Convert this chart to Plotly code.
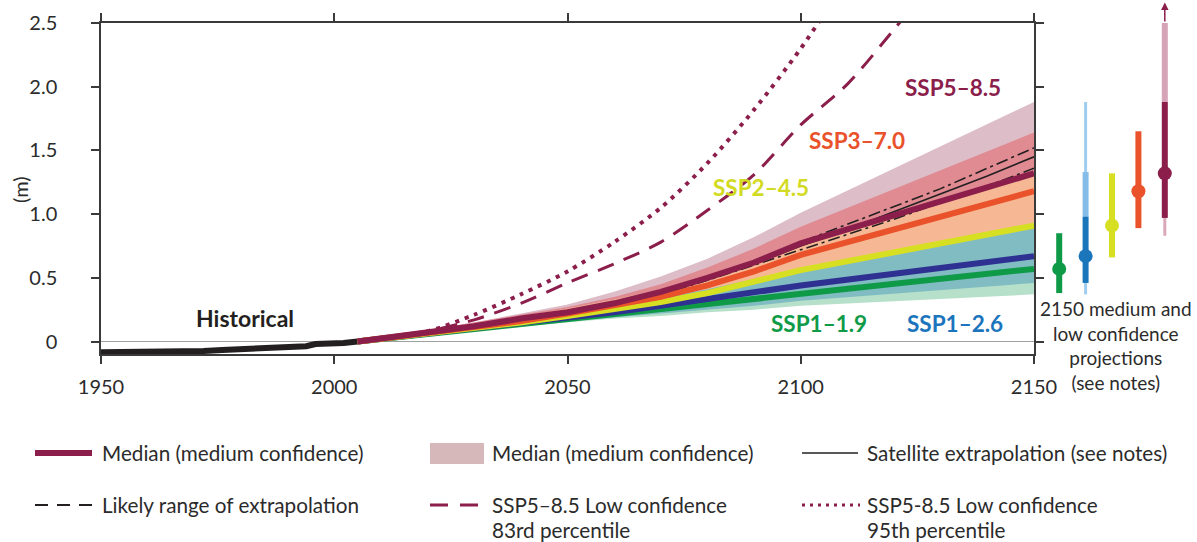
import plotly.graph_objects as go

# ---------------- data ----------------
hist_years = [1950, 1968, 1972, 1976, 1980, 1986, 1990, 1994, 1996, 2000, 2002, 2005]
hist_values = [-0.084, -0.084, -0.074, -0.066, -0.060, -0.056, -0.046, -0.037, -0.020, -0.018, -0.012, 0.0]

proj_years = [2005, 2020, 2030, 2040, 2050, 2060, 2070, 2080, 2090, 2100, 2150]

ssp119_median = [0, 0.06, 0.10, 0.14, 0.18, 0.22, 0.26, 0.30, 0.34, 0.38, 0.57]
ssp126_median = [0, 0.06, 0.10, 0.15, 0.19, 0.23, 0.28, 0.33, 0.38, 0.44, 0.67]
ssp245_median = [0, 0.06, 0.11, 0.15, 0.20, 0.25, 0.31, 0.38, 0.47, 0.56, 0.91]
ssp370_median = [0, 0.07, 0.11, 0.16, 0.22, 0.28, 0.35, 0.44, 0.55, 0.68, 1.18]
ssp585_median = [0, 0.07, 0.12, 0.18, 0.23, 0.30, 0.39, 0.50, 0.62, 0.77, 1.32]

ssp119_low = [0, 0.06, 0.09, 0.12, 0.15, 0.18, 0.20, 0.23, 0.25, 0.28, 0.37]
ssp119_high = [0, 0.08, 0.13, 0.18, 0.23, 0.28, 0.34, 0.40, 0.47, 0.55, 0.86]
ssp126_low = [0, 0.06, 0.09, 0.12, 0.16, 0.19, 0.22, 0.25, 0.28, 0.32, 0.46]
ssp126_high = [0, 0.08, 0.13, 0.18, 0.23, 0.28, 0.34, 0.41, 0.49, 0.57, 0.93]
ssp245_low = [0, 0.06, 0.09, 0.13, 0.17, 0.21, 0.26, 0.31, 0.37, 0.44, 0.66]
ssp245_high = [0, 0.09, 0.14, 0.20, 0.26, 0.33, 0.41, 0.52, 0.63, 0.76, 1.33]
ssp370_low = [0, 0.06, 0.10, 0.14, 0.18, 0.23, 0.29, 0.36, 0.45, 0.55, 0.91]
ssp370_high = [0, 0.09, 0.15, 0.21, 0.27, 0.35, 0.45, 0.58, 0.73, 0.90, 1.64]
ssp585_low = [0, 0.06, 0.10, 0.15, 0.20, 0.26, 0.33, 0.42, 0.52, 0.63, 0.98]
ssp585_high = [0, 0.09, 0.15, 0.22, 0.29, 0.39, 0.51, 0.65, 0.82, 1.01, 1.88]

sat_years = [2005, 2020, 2030, 2040, 2050, 2060, 2070, 2080, 2090, 2100, 2110, 2120, 2130, 2140, 2150]
sat_central = [0, 0.06, 0.11, 0.17, 0.22, 0.29, 0.38, 0.49, 0.61, 0.75, 0.88, 1.02, 1.16, 1.30, 1.45]
sat_upper = [0, 0.06, 0.11, 0.17, 0.23, 0.30, 0.39, 0.50, 0.63, 0.78, 0.92, 1.06, 1.20, 1.36, 1.52]
sat_lower = [0, 0.06, 0.11, 0.16, 0.22, 0.28, 0.37, 0.48, 0.60, 0.72, 0.84, 0.96, 1.09, 1.22, 1.36]

lc83_years = [2005, 2020, 2030, 2040, 2050, 2060, 2070, 2080, 2090, 2100, 2110, 2120, 2130]
lc83_values = [0, 0.08, 0.17, 0.30, 0.46, 0.61, 0.78, 1.03, 1.31, 1.70, 2.02, 2.45, 2.90]
lc95_years = [2005, 2020, 2030, 2040, 2050, 2060, 2070, 2080, 2090, 2100, 2110]
lc95_values = [0, 0.08, 0.21, 0.37, 0.55, 0.78, 1.05, 1.40, 1.82, 2.30, 2.85]

scenarios = ["SSP1–1.9", "SSP1–2.6", "SSP2–4.5", "SSP3–7.0", "SSP5–8.5"]
proj_pos = [1, 2, 3, 4, 5]
median_2150 = [0.57, 0.67, 0.91, 1.18, 1.32]
likely_low_2150 = [0.38, 0.46, 0.66, 0.89, 0.97]
likely_high_2150 = [0.85, 0.98, 1.32, 1.65, 1.88]
lowconf_min_2150 = [None, 0.37, None, None, 0.83]
lowconf_max_2150 = [None, 1.88, None, None, 2.5]
lowconf_mid_2150 = [None, 1.33, None, None, 2.5]

x_ticks = [1950, 2000, 2050, 2100, 2150]
y_ticks = [0, 0.5, 1.0, 1.5, 2.0, 2.5]
y_ticktext = ["0", "0.5", "1.0", "1.5", "2.0", "2.5"]

# ---------------- styles ----------------
FONT = "Lato"
TXT = "#2b2b2b"
MAROON = "#8b1e4b"
line_colors = ["#0f9a48", "#2e3192", "#d7df23", "#e9522b", MAROON]
label_colors = ["#0f9a48", "#1c75bc", "#d2da22", "#e9522b", MAROON]
bar_colors = ["#0f9a48", "#1b75bb", "#d7df23", "#e9522b", MAROON]
light_thick = [None, "#86bde8", None, None, "#d7a3b7"]
light_thin = [None, "#9fcdee", None, None, "#d9a9bb"]
band_colors = {"585": "#dcbdc8", "370": "#e08a92", "245": "#f6b894", "119": "#b6e0c9", "126": "#80bcc2"}

fig = go.Figure()

# bands
bands = [("585", ssp585_low, ssp585_high), ("370", ssp370_low, ssp370_high),
         ("245", ssp245_low, ssp245_high), ("119", ssp119_low, ssp119_high),
         ("126", ssp126_low, ssp126_high)]
for key, lo, hi in bands:
    fig.add_trace(go.Scatter(x=proj_years, y=lo, mode="lines", line=dict(width=0, color=band_colors[key]),
                             hoverinfo="skip", showlegend=False))
    fig.add_trace(go.Scatter(x=proj_years, y=hi, mode="lines", line=dict(width=0, color=band_colors[key]),
                             fill="tonexty", fillcolor=band_colors[key], hoverinfo="skip", showlegend=False))

# satellite extrapolation
fig.add_trace(go.Scatter(x=sat_years, y=sat_upper, mode="lines",
                         line=dict(color="#231f20", width=1.6, dash="12px,4px,3px,4px"), showlegend=False))
fig.add_trace(go.Scatter(x=sat_years, y=sat_lower, mode="lines",
                         line=dict(color="#231f20", width=1.6, dash="12px,4px,3px,4px"), showlegend=False))
fig.add_trace(go.Scatter(x=sat_years, y=sat_central, mode="lines",
                         line=dict(color="#231f20", width=1.6), showlegend=False))

# low confidence
fig.add_trace(go.Scatter(x=lc83_years, y=lc83_values, mode="lines",
                         line=dict(color=MAROON, width=3, dash="17px,11px", shape="spline", smoothing=0.8),
                         showlegend=False))
fig.add_trace(go.Scatter(x=lc95_years, y=lc95_values, mode="lines",
                         line=dict(color=MAROON, width=4, dash="4px,6px", shape="spline", smoothing=0.8),
                         showlegend=False))

# historical
fig.add_trace(go.Scatter(x=hist_years, y=hist_values, mode="lines",
                         line=dict(color="#231f20", width=6), showlegend=False))

# medians
for vals, col in zip([ssp119_median, ssp126_median, ssp245_median, ssp370_median, ssp585_median], line_colors):
    fig.add_trace(go.Scatter(x=proj_years, y=vals, mode="lines", line=dict(color=col, width=6), showlegend=False))

# right panel: 2150 ranges
for i, p in enumerate(proj_pos):
    if lowconf_min_2150[i] is not None:
        fig.add_trace(go.Scatter(x=[p, p], y=[lowconf_min_2150[i], lowconf_max_2150[i]], mode="lines",
                                 line=dict(color=light_thin[i], width=3), xaxis="x2", yaxis="y2",
                                 showlegend=False))
        fig.add_trace(go.Scatter(x=[p, p], y=[likely_high_2150[i], lowconf_mid_2150[i]], mode="lines",
                                 line=dict(color=light_thick[i], width=6), xaxis="x2", yaxis="y2",
                                 showlegend=False))
    fig.add_trace(go.Scatter(x=[p, p], y=[likely_low_2150[i], likely_high_2150[i]], mode="lines",
                             line=dict(color=bar_colors[i], width=6), xaxis="x2", yaxis="y2", showlegend=False))
fig.add_trace(go.Scatter(x=proj_pos, y=median_2150, mode="markers",
                         marker=dict(color=bar_colors, size=14, line=dict(width=0)),
                         xaxis="x2", yaxis="y2", showlegend=False))

# ---------------- layout ----------------
L, R, T, B = 101, 19, 23, 188
W, H = 1197, 542
PW, PH = W - L - R, H - T - B


def px(xp):
    return (xp - L) / PW


def py(yp):
    return (H - B - yp) / PH


axis_common = dict(showline=True, linecolor="#3a3a3a", linewidth=1.5, ticks="outside", ticklen=8,
                   tickwidth=1.5, tickcolor="#3a3a3a", mirror="ticks", showgrid=False,
                   tickfont=dict(family=FONT, size=20, color=TXT))

fig.update_layout(
    width=W, height=H, autosize=False,
    margin=dict(l=L, r=R, t=T, b=B, pad=0, autoexpand=False),
    paper_bgcolor="white", plot_bgcolor="white",
    showlegend=False,
    xaxis=dict(domain=[0, px(1034)], range=[1950, 2150], tickvals=x_ticks, zeroline=False,
               ticklabelstandoff=6, anchor="y", **axis_common),
    yaxis=dict(domain=[0, 1], range=[-0.098, 2.5], tickvals=y_ticks, ticktext=y_ticktext,
               zeroline=True, zerolinecolor="#a0a0a0", zerolinewidth=1.2,
               ticklabelstandoff=30, anchor="x", **axis_common),
    xaxis2=dict(domain=[px(1046), 1], range=[0.5, 5.5], visible=False, anchor="y2"),
    yaxis2=dict(domain=[0, 1], range=[-0.098, 2.5], visible=False, anchor="x2"),
)

ann = []


def text(x, y, s, size=20, color=TXT, bold=False, xanchor="center", xref="paper", yref="paper", angle=0):
    ann.append(dict(x=x, y=y, xref=xref, yref=yref, text=("<b>%s</b>" % s) if bold else s,
                    showarrow=False, xanchor=xanchor, yanchor="middle", textangle=angle,
                    font=dict(family=FONT, size=size, color=color)))


# scenario labels (data coordinates)
label_pos = [(2103.9, 0.145), (2133.1, 0.145), (2091.5, 1.21), (2112.1, 1.58), (2132.6, 1.99)]
for s, (lx, ly), c in zip(scenarios, label_pos, label_colors):
    text(lx, ly, s, size=22.5, color=c, bold=True, xref="x", yref="y")
text(1980.9, 0.185, "Historical", size=23, color="#231f20", bold=True, xref="x", yref="y")
text(px(20), py(190), "(m)", size=20, angle=-90)

# right panel notes (single multi-line text)
text(px(1116), py(345), "2150 medium and<br>low confidence<br>projections<br>(see notes)", size=19)

# arrow above SSP5-8.5 bar
ann.append(dict(x=5, y=2.66, xref="x2", yref="y2", ax=5, ay=2.5, axref="x2", ayref="y2", text="",
                showarrow=True, arrowhead=2, arrowsize=1, arrowwidth=1.5, arrowcolor=MAROON, standoff=0))

# manual legend
shapes = []
shapes.append(dict(type="line", xref="paper", yref="paper", x0=px(35), x1=px(92), y0=py(453), y1=py(453),
                   line=dict(color=MAROON, width=6)))
shapes.append(dict(type="rect", xref="paper", yref="paper", x0=px(430), x1=px(484), y0=py(443), y1=py(464),
                   line=dict(width=0), fillcolor="#d6b7ba"))
shapes.append(dict(type="line", xref="paper", yref="paper", x0=px(802), x1=px(858), y0=py(453), y1=py(453),
                   line=dict(color="#231f20", width=1.6)))
shapes.append(dict(type="line", xref="paper", yref="paper", x0=px(35), x1=px(92), y0=py(505), y1=py(505),
                   line=dict(color="#231f20", width=1.8, dash="13px,9px")))
shapes.append(dict(type="line", xref="paper", yref="paper", x0=px(430), x1=px(484), y0=py(505), y1=py(505),
                   line=dict(color=MAROON, width=3, dash="18px,12px")))
shapes.append(dict(type="line", xref="paper", yref="paper", x0=px(802), x1=px(860), y0=py(505), y1=py(505),
                   line=dict(color=MAROON, width=3, dash="3px,5px")))
fig.update_layout(shapes=shapes)

LS = 20.7
text(px(100), py(453), "Median (medium confidence)", size=LS, xanchor="left")
text(px(490), py(453), "Median (medium confidence)", size=LS, xanchor="left")
text(px(865), py(453), "Satellite extrapolation (see notes)", size=LS, xanchor="left")
text(px(100), py(505), "Likely range of extrapolation", size=LS, xanchor="left")
text(px(490), py(505), "SSP5–8.5 Low confidence", size=LS, xanchor="left")
text(px(490), py(530), "83rd percentile", size=LS, xanchor="left")
text(px(865), py(505), "SSP5-8.5 Low confidence", size=LS, xanchor="left")
text(px(865), py(530), "95th percentile", size=LS, xanchor="left")

fig.update_layout(annotations=ann)
fig.write_html("out.html")
